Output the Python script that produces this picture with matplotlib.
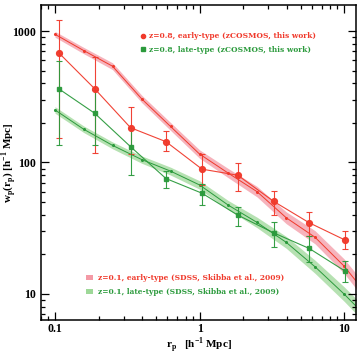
import numpy as np
import matplotlib
matplotlib.use("Agg")
import matplotlib.pyplot as plt
from matplotlib.lines import Line2D
from matplotlib.patches import Patch

# zCOSMOS z=0.8 measurements
rp_cosmos = [0.106, 0.188, 0.333, 0.586, 1.04, 1.84, 3.25, 5.74, 10.1]
wp_early = [684, 364, 184, 144, 89, 80, 50.7, 34.8, 25.8]
wp_early_hi = [1213, 631, 266, 175, 116, 99.6, 61, 41.8, 30.3]
wp_early_lo = [153, 118, 117, 122, 67, 60.7, 40, 27.6, 21.9]
wp_late = [364, 237, 132, 75.5, 58.4, 39.8, 29.2, 22.2, 15.0]
wp_late_hi = [592, 356, 184, 86, 68.5, 46, 35.5, 27.6, 17.8]
wp_late_lo = [137, 137, 81, 64, 47.5, 32.9, 22.6, 17.6, 12.4]

# SDSS z=0.1 (Skibba et al. 2009)
rp_sdss = [0.1, 0.158, 0.25, 0.4, 0.63, 1.0, 1.58, 2.5, 3.98, 6.3, 10.0, 15.8]
wp_sdss_early = [944, 710, 540, 303, 188, 116, 83, 60, 38, 27, 16.3, 8.7]
wp_sdss_late = [251, 179, 135, 105, 86, 67.5, 47.4, 35, 24.7, 16.1, 10.0, 6.0]
dex_sdss_early = [0.022, 0.024, 0.026, 0.028, 0.03, 0.032, 0.035, 0.04, 0.045, 0.05, 0.055, 0.06]
dex_sdss_late = [0.025, 0.025, 0.026, 0.028, 0.03, 0.032, 0.035, 0.04, 0.045, 0.05, 0.055, 0.06]

red = "#f0392b"
red_band = "#f49aa6"
green = "#2b9a3c"
green_band = "#9ed898"
serif = "Liberation Serif"

fig = plt.figure(figsize=(3.58, 3.54), dpi=100)
ax = fig.add_axes([0.1145, 0.096, 0.88, 0.89])

for wp, dex, c in [(wp_sdss_early, dex_sdss_early, red_band),
                   (wp_sdss_late, dex_sdss_late, green_band)]:
    wp = np.array(wp)
    f = 10 ** np.array(dex)
    ax.fill_between(rp_sdss, wp / f, wp * f, color=c, alpha=0.75, lw=0, zorder=1)
ax.plot(rp_sdss, wp_sdss_early, color=red, lw=0.7, marker="o", ms=1.2, zorder=2)
ax.plot(rp_sdss, wp_sdss_late, color=green, lw=0.7, marker="o", ms=1.2, zorder=2)

for wp, hi, lo, c, m, ms in [(wp_early, wp_early_hi, wp_early_lo, red, "o", 4.2),
                             (wp_late, wp_late_hi, wp_late_lo, green, "s", 3.4)]:
    wp = np.array(wp)
    yerr = [wp - np.array(lo), np.array(hi) - wp]
    ax.errorbar(rp_cosmos, wp, yerr=yerr, color=c, ecolor=c, elinewidth=0.8,
                capsize=2.5, capthick=0.8, lw=0.8, marker=m, ms=ms, alpha=0.95, zorder=3)

ax.set_xscale("log")
ax.set_yscale("log")
ax.set_xlim(0.08, 12.1)
ax.set_ylim(6.34, 1578)
ax.set_xticks([0.1, 1, 10])
ax.set_xticklabels(["0.1", "1", "10"])
ax.set_yticks([10, 100, 1000])
ax.set_yticklabels(["10", "100", "1000"])
ax.tick_params(which="both", direction="in", top=True, right=True, width=0.9)
ax.tick_params(which="major", length=6, labelsize=8.6)
ax.tick_params(axis="x", which="major", pad=2.5)
ax.tick_params(axis="y", which="major", pad=3.5)
ax.tick_params(which="minor", length=3)
for lab in ax.get_xticklabels() + ax.get_yticklabels():
    lab.set_family(serif)
    lab.set_weight("bold")
for s in ax.spines.values():
    s.set_linewidth(1.1)

ax.set_xlabel(r"r$_\mathregular{p}$   [h$^\mathregular{-1}$ Mpc]", family=serif,
              weight="bold", fontsize=8, va="center")
ax.set_ylabel(r"w$_\mathregular{p}$(r$_\mathregular{p}$) [h$^\mathregular{-1}$ Mpc]",
              family=serif, weight="bold", fontsize=8, va="center")
ax.xaxis.set_label_coords(0.5, -0.079)
ax.yaxis.set_label_coords(-0.102, 0.5)

leg_font = {"family": "DejaVu Serif", "weight": "bold", "size": 5.4}

h1 = [Line2D([], [], color=red, marker="o", ms=3, ls="none"),
      Line2D([], [], color=green, marker="s", ms=2.6, ls="none")]
leg1 = ax.legend(h1, ["z=0.8, early-type (zCOSMOS, this work)",
                      "z=0.8, late-type (zCOSMOS, this work)"],
                 loc="upper left", bbox_to_anchor=(0.305, 0.925), frameon=False,
                 prop=leg_font, handlelength=0.6, handletextpad=0.5,
                 labelspacing=0.75, borderpad=0)
leg1.get_texts()[0].set_color(red)
leg1.get_texts()[1].set_color(green)
ax.add_artist(leg1)

h2 = [Patch(facecolor=red_band, edgecolor="none"),
      Patch(facecolor=green_band, edgecolor="none")]
leg2 = ax.legend(h2, ["z=0.1, early-type (SDSS, Skibba et al., 2009)",
                      "z=0.1, late-type (SDSS, Skibba et al., 2009)"],
                 loc="lower left", bbox_to_anchor=(0.13, 0.065), frameon=False,
                 prop=leg_font, handlelength=1.0, handleheight=0.6,
                 handletextpad=0.6, labelspacing=0.75, borderpad=0)
leg2.get_texts()[0].set_color(red)
leg2.get_texts()[1].set_color(green)

fig.savefig("out.png", dpi=100)
